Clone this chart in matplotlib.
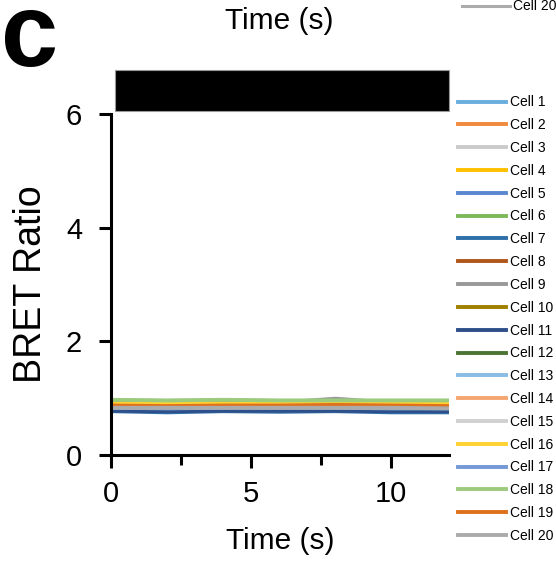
import numpy as np
import matplotlib
matplotlib.use("Agg")
from matplotlib import pyplot as plt
from matplotlib.patches import Rectangle
from matplotlib.lines import Line2D

plt.rcParams['font.family'] = ['Liberation Sans', 'DejaVu Sans']

# time points (s) and BRET ratio traces, one row per cell
time = [0, 2, 4, 6, 8, 10, 12]
cells = ["Cell %d" % i for i in range(1, 21)]
ratios = [
    [0.80, 0.79, 0.80, 0.80, 0.80, 0.79, 0.79],
    [0.87, 0.87, 0.86, 0.87, 0.87, 0.87, 0.86],
    [0.84, 0.84, 0.84, 0.83, 0.84, 0.84, 0.83],
    [0.90, 0.90, 0.90, 0.89, 0.90, 0.89, 0.90],
    [0.82, 0.81, 0.82, 0.82, 0.81, 0.81, 0.81],
    [0.96, 0.95, 0.96, 0.95, 0.95, 0.95, 0.95],
    [0.77, 0.75, 0.77, 0.76, 0.77, 0.75, 0.75],
    [0.89, 0.88, 0.89, 0.88, 0.89, 0.89, 0.88],
    [0.92, 0.91, 0.92, 0.92, 0.99, 0.92, 0.92],
    [0.88, 0.88, 0.87, 0.88, 0.88, 0.87, 0.87],
    [0.78, 0.77, 0.78, 0.78, 0.78, 0.77, 0.77],
    [0.93, 0.92, 0.93, 0.92, 0.93, 0.92, 0.92],
    [0.83, 0.82, 0.83, 0.83, 0.83, 0.82, 0.82],
    [0.86, 0.85, 0.86, 0.86, 0.86, 0.85, 0.85],
    [0.85, 0.84, 0.85, 0.84, 0.85, 0.85, 0.84],
    [0.91, 0.90, 0.91, 0.90, 0.91, 0.90, 0.90],
    [0.84, 0.83, 0.84, 0.84, 0.85, 0.84, 0.83],
    [0.97, 0.96, 0.97, 0.96, 0.96, 0.96, 0.96],
    [0.87, 0.86, 0.87, 0.87, 0.88, 0.87, 0.86],
    [0.83, 0.83, 0.83, 0.83, 0.83, 0.83, 0.82],
]
colors = ["#6AAEE0", "#F08A3C", "#CACACA", "#FFC000", "#5B87D0",
          "#7DB85A", "#2F6FAA", "#B0561A", "#999999", "#A08000",
          "#2E4F8A", "#4E7434", "#8ABCE4", "#F4A672", "#D0D0D0",
          "#FFD230", "#7499D6", "#9CCB7E", "#E0701C", "#ABABAB"]

# stimulus bar drawn above the axes
stim_start, stim_end = 0.12, 12.05
stim_low, stim_high = 6.05, 6.77

fig = plt.figure(figsize=(5.56, 5.61), dpi=100)
ax = fig.add_axes([0.2, 0.189, 0.608, 0.608])

for i in range(len(cells)):
    ax.plot(time, ratios[i], color=colors[i], lw=2.8, label=cells[i])

ax.add_patch(Rectangle((stim_start, stim_low), stim_end - stim_start,
                       stim_high - stim_low, facecolor="black",
                       edgecolor="#999999", lw=0.8, clip_on=False))

ax.set_xlim(0, 12.07)
ax.set_ylim(0, 6)
ax.set_xticks([0, 5, 10])
ax.set_xticks([2.5, 7.5], minor=True)
ax.set_yticks([0, 2, 4, 6])
for s in ["top", "right"]:
    ax.spines[s].set_visible(False)
for s in ["left", "bottom"]:
    ax.spines[s].set_linewidth(2.2)
ax.tick_params(which="major", length=9, width=2.2, labelsize=21)
ax.tick_params(axis="x", which="major", pad=9)
ax.tick_params(axis="y", which="major", pad=12)
ax.tick_params(axis="x", which="minor", length=7, width=2.2)
ax.set_xlabel("Time (s)", fontsize=21.5, labelpad=14)
ax.set_ylabel("BRET Ratio", fontsize=27, labelpad=12)

fig.text(0.503, 0.962, "Time (s)", fontsize=21.5, ha="center", va="center")
fig.text(0.002, 0.882, "c", fontsize=74, fontweight="bold",
         ha="left", va="baseline")

# leftover legend entry at the top right
fig.add_artist(Line2D([462 / 556, 510 / 556], [0.990, 0.990],
                      color="#ABABAB", lw=2.2))
fig.text(513 / 556, 0.990, "Cell 20", fontsize=10, va="center")

ax.legend(loc="upper left", bbox_to_anchor=(458 / 556, 0.830),
          bbox_transform=fig.transFigure, frameon=False, fontsize=10,
          handlelength=3.45, handletextpad=0.3, labelspacing=0.635,
          borderpad=0, borderaxespad=0)

fig.savefig("out.png", dpi=100)
